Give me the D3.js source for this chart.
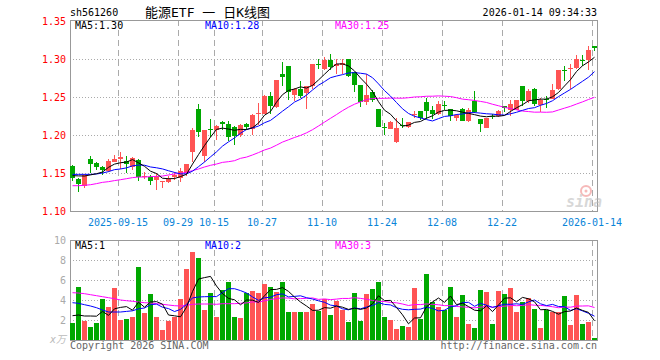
<!DOCTYPE html>
<html>
<head>
<meta charset="utf-8">
<script src="https://cdn.jsdelivr.net/npm/d3@7"></script>
<style>
  body { margin: 0; background: #fff; }
  svg text { font-family: "DejaVu Sans Mono", "Noto Sans CJK SC", monospace; }
</style>
</head>
<body>
<div id="chart"></div>
<script>
// trading days shown (2025-09-03 .. 2026-01-14)
const dates = [
  '2025-09-03', '2025-09-04', '2025-09-05', '2025-09-08', '2025-09-09', '2025-09-10', '2025-09-11', '2025-09-12',
  '2025-09-15', '2025-09-16', '2025-09-17', '2025-09-18', '2025-09-19', '2025-09-22', '2025-09-23', '2025-09-24',
  '2025-09-25', '2025-09-26', '2025-09-29', '2025-09-30', '2025-10-09', '2025-10-10', '2025-10-13', '2025-10-14',
  '2025-10-15', '2025-10-16', '2025-10-17', '2025-10-20', '2025-10-21', '2025-10-22', '2025-10-23', '2025-10-24',
  '2025-10-27', '2025-10-28', '2025-10-29', '2025-10-30', '2025-10-31', '2025-11-03', '2025-11-04', '2025-11-05',
  '2025-11-06', '2025-11-07', '2025-11-10', '2025-11-11', '2025-11-12', '2025-11-13', '2025-11-14', '2025-11-17',
  '2025-11-18', '2025-11-19', '2025-11-20', '2025-11-21', '2025-11-24', '2025-11-25', '2025-11-26', '2025-11-27',
  '2025-11-28', '2025-12-01', '2025-12-02', '2025-12-03', '2025-12-04', '2025-12-05', '2025-12-08', '2025-12-09',
  '2025-12-10', '2025-12-11', '2025-12-12', '2025-12-15', '2025-12-16', '2025-12-17', '2025-12-18', '2025-12-19',
  '2025-12-22', '2025-12-23', '2025-12-24', '2025-12-25', '2025-12-26', '2025-12-29', '2025-12-30', '2025-12-31',
  '2026-01-05', '2026-01-06', '2026-01-07', '2026-01-08', '2026-01-09', '2026-01-12', '2026-01-13', '2026-01-14'
];

const open = [
  1.159, 1.1425, 1.1325, 1.169, 1.1636, 1.1575, 1.152, 1.165, 1.169, 1.166,
  1.158, 1.1675, 1.145, 1.1448, 1.1408, 1.138, 1.1386, 1.1445, 1.1435, 1.150,
  1.177, 1.2346, 1.172, 1.208, 1.2061, 1.2165, 1.215, 1.211, 1.2004, 1.215,
  1.208, 1.2278, 1.228, 1.2518, 1.2368, 1.2798, 1.2904, 1.2526, 1.2605, 1.2553,
  1.265, 1.294, 1.2873, 1.2982, 1.2913, 1.2917, 1.300, 1.2829, 1.2662, 1.2434,
  1.2561, 1.2346, 1.2105, 1.2075, 1.1908, 1.2136, 1.2105, 1.2267, 1.232, 1.2439,
  1.2333, 1.2281, 1.240, 1.2346, 1.2224, 1.2342, 1.218, 1.2443, 1.2215, 1.2092,
  1.2254, 1.2254, 1.2377, 1.2333, 1.2333, 1.2649, 1.2443, 1.2605, 1.2399, 1.2474,
  1.2474, 1.2605, 1.286, 1.2868, 1.2882, 1.2987, 1.2982, 1.3167
];
const close = [
  1.143, 1.135, 1.1478, 1.162, 1.1575, 1.154, 1.166, 1.169, 1.171, 1.162,
  1.170, 1.145, 1.146, 1.139, 1.1465, 1.139, 1.142, 1.147, 1.152, 1.1614,
  1.206, 1.2045, 1.207, 1.207, 1.2123, 1.2145, 1.198, 1.199, 1.2136, 1.2105,
  1.2268, 1.2285, 1.251, 1.2377, 1.272, 1.2763, 1.2561, 1.2605, 1.2518, 1.264,
  1.294, 1.2917, 1.2982, 1.2895, 1.2938, 1.2947, 1.278, 1.2654, 1.2434, 1.2531,
  1.2465, 1.2105, 1.2097, 1.2167, 1.2092, 1.2123, 1.2167, 1.2281, 1.2224, 1.2311,
  1.2281, 1.2412, 1.2386, 1.2246, 1.2268, 1.2189, 1.2333, 1.2303, 1.215, 1.2224,
  1.2237, 1.232, 1.2355, 1.2412, 1.2465, 1.2443, 1.2575, 1.2412, 1.2465, 1.2465,
  1.2596, 1.286, 1.2838, 1.2882, 1.300, 1.2974, 1.3114, 1.3145
];
const high = [
  1.160, 1.144, 1.149, 1.173, 1.165, 1.159, 1.168, 1.174, 1.178, 1.173,
  1.171, 1.168, 1.151, 1.148, 1.150, 1.139, 1.146, 1.151, 1.157, 1.1614,
  1.209, 1.241, 1.207, 1.2215, 1.213, 1.218, 1.218, 1.212, 1.215, 1.216,
  1.228, 1.242, 1.252, 1.257, 1.273, 1.2965, 1.2904, 1.2614, 1.2706, 1.264,
  1.294, 1.300, 1.302, 1.306, 1.300, 1.300, 1.300, 1.2829, 1.2662, 1.2807,
  1.2596, 1.2346, 1.216, 1.2189, 1.2224, 1.2224, 1.2175, 1.231, 1.232, 1.2487,
  1.2377, 1.2452, 1.2452, 1.2346, 1.228, 1.2355, 1.2355, 1.2575, 1.2215, 1.2224,
  1.2281, 1.2333, 1.2386, 1.2465, 1.2465, 1.2649, 1.2605, 1.2618, 1.2487, 1.2509,
  1.2675, 1.286, 1.2912, 1.294, 1.3057, 1.305, 1.3175, 1.3175
];
const low = [
  1.139, 1.125, 1.130, 1.150, 1.154, 1.147, 1.151, 1.164, 1.155, 1.150,
  1.154, 1.139, 1.142, 1.134, 1.128, 1.130, 1.137, 1.141, 1.138, 1.146,
  1.165, 1.198, 1.165, 1.198, 1.194, 1.207, 1.1925, 1.187, 1.198, 1.207,
  1.1996, 1.213, 1.227, 1.228, 1.2355, 1.264, 1.2465, 1.2443, 1.2487, 1.2338,
  1.2605, 1.2873, 1.286, 1.285, 1.2807, 1.2807, 1.2763, 1.2561, 1.2364, 1.240,
  1.243, 1.210, 1.1996, 1.2075, 1.190, 1.2092, 1.2092, 1.222, 1.220, 1.2206,
  1.2206, 1.2268, 1.2333, 1.219, 1.218, 1.218, 1.2167, 1.229, 1.2035, 1.2092,
  1.2211, 1.2233, 1.2298, 1.2254, 1.2325, 1.2377, 1.2421, 1.2377, 1.2298, 1.2355,
  1.2474, 1.2596, 1.2706, 1.2605, 1.2868, 1.2912, 1.2855, 1.311
];
// volume, 万
const volume = [
  1.7, 5.3, 1.9, 1.3, 1.7, 4.1, 3.3, 5.2, 2.0, 2.1,
  2.3, 7.3, 2.7, 4.6, 2.3, 1.0, 1.9, 2.3, 4.1, 7.1,
  8.8, 8.2, 3.0, 4.7, 2.3, 5.0, 5.8, 2.3, 2.2, 4.7,
  4.9, 4.7, 5.6, 5.3, 4.8, 5.8, 2.8, 2.8, 2.8, 2.8,
  3.6, 2.9, 4.1, 2.5, 3.9, 3.0, 1.8, 4.7, 1.9, 4.6,
  5.1, 5.8, 2.3, 2.0, 1.1, 1.4, 1.3, 5.2, 2.1, 6.6,
  3.8, 3.3, 3.0, 5.3, 2.3, 4.5, 1.6, 1.2, 5.0, 4.8,
  1.6, 4.9, 4.6, 5.2, 2.8, 3.8, 4.2, 3.1, 1.2, 3.0,
  2.8, 2.8, 4.4, 1.5, 4.5, 1.6, 1.8, 0.2
];

const ma5Head = [1.1465, 1.1462, 1.146, 1.1475];
const ma10Head = [1.1482, 1.1482, 1.1482, 1.1482, 1.1487, 1.150, 1.1518, 1.1544, 1.1553];
const ma30Head = [
  1.1333, 1.1333, 1.1338, 1.1346, 1.136, 1.1377, 1.1386, 1.140, 1.1412, 1.1425,
  1.1439, 1.1447, 1.1447, 1.1452, 1.1456, 1.146, 1.1474, 1.1487, 1.1496, 1.1509,
  1.1531, 1.1553, 1.1579, 1.1601, 1.1618, 1.164, 1.1649, 1.1662, 1.1693
];
const volMa5Head = [2.43, 2.5, 2.4, 2.4];
const volMa10Head = [3.73, 3.67, 3.53, 3.4, 3.23, 3.0, 2.8, 2.8, 2.8];
const volMa30Head = [
  4.73, 4.7, 4.63, 4.53, 4.43, 4.33, 4.23, 4.13, 4.0, 3.93,
  3.87, 3.8, 3.73, 3.7, 3.63, 3.57, 3.5, 3.43, 3.4, 3.47,
  3.57, 3.6, 3.6, 3.6, 3.57, 3.63, 3.63, 3.63, 3.67
];

const priceTicks = [1.10, 1.15, 1.20, 1.25, 1.30, 1.35];
const volTicks = [2, 4, 6, 8, 10];
const dateTicks = ['2025-09-15', '2025-09-29', '2025-10-15', '2025-10-27', '2025-11-10',
  '2025-11-24', '2025-12-08', '2025-12-22', '2026-01-14'];
const dateTickLabels = ['2025-09-15', '09-29', '10-15', '10-27', '11-10',
  '11-24', '12-08', '12-22', '2026-01-14'];

const width = 660;
const height = 360;
const left = 70;
const right = 598;
const RED = '#ff5454';
const GREEN = '#00a800';
const GRID = '#aaa';

function movingAvg(vals, n, head) {
  return vals.map((v, i) => (i >= n - 1 ? d3.mean(vals.slice(i - n + 1, i + 1)) : head[i]));
}

const ma5 = movingAvg(close, 5, ma5Head);
const ma10 = movingAvg(close, 10, ma10Head);
const ma30 = movingAvg(close, 30, ma30Head);
const vma5 = movingAvg(volume, 5, volMa5Head);
const vma10 = movingAvg(volume, 10, volMa10Head);
const vma30 = movingAvg(volume, 30, volMa30Head);

const x = d3.scaleBand().domain(dates).range([left, right]).padding(0);
const bw = x.bandwidth() - 1;
const cx = (d) => x(d) + 2.5;
const y = d3.scaleLinear().domain([1.10, 1.35]).range([211, 21]);
const yv = d3.scaleLinear().domain([0, 10]).range([340, 240]);

const svg = d3.select('#chart')
  .append('svg')
  .attr('width', width)
  .attr('height', height)
  .attr('viewBox', [0, 0, width, height]);

// header
svg.append('text').attr('x', 70).attr('y', 16).attr('font-size', 10).attr('fill', '#000')
  .text('sh561260');
svg.append('text').attr('x', 145).attr('y', 17).attr('font-size', 13).attr('fill', '#000')
  .text('能源ETF 一 日K线图');
svg.append('text').attr('x', 597).attr('y', 16).attr('font-size', 10).attr('fill', '#000')
  .attr('text-anchor', 'end').text('2026-01-14 09:34:33');

// ---- panels: grid + frame
function panel(top, bottom, yScale, ticks) {
  const g = svg.append('g').attr('shape-rendering', 'crispEdges');
  g.selectAll('line.h')
    .data(ticks)
    .join('line')
    .attr('x1', left).attr('x2', right - 1)
    .attr('y1', (d) => Math.round(yScale(d)) + 0.5)
    .attr('y2', (d) => Math.round(yScale(d)) + 0.5)
    .attr('stroke', GRID)
    .attr('stroke-dasharray', '1,2');
  g.selectAll('line.v')
    .data(dateTicks)
    .join('line')
    .attr('x1', (d) => x(d) + 0.5).attr('x2', (d) => x(d) + 0.5)
    .attr('y1', top).attr('y2', bottom)
    .attr('stroke', GRID)
    .attr('stroke-dasharray', '6,4');
  g.append('path')
    .attr('d', `M${left + 0.5},${top + 0.5}H${right - 0.5}V${bottom + 0.5}H${left + 0.5}Z`)
    .attr('fill', 'none')
    .attr('stroke', '#999');
}
panel(20, 211, y, priceTicks.slice(1, -1));
panel(240, 340, yv, volTicks.slice(0, -1));

// price axis labels
svg.append('g')
  .selectAll('text')
  .data(priceTicks)
  .join('text')
  .attr('x', 66)
  .attr('y', (d) => y(d) + 4)
  .attr('text-anchor', 'end')
  .attr('font-size', 10)
  .attr('fill', '#f00')
  .text((d) => d.toFixed(2));

// volume axis labels
svg.append('g')
  .selectAll('text')
  .data(volTicks)
  .join('text')
  .attr('x', 66)
  .attr('y', (d) => yv(d) + 4)
  .attr('text-anchor', 'end')
  .attr('font-size', 10)
  .attr('fill', '#aaa')
  .text((d) => d);
svg.append('text').attr('x', 66).attr('y', 343).attr('text-anchor', 'end')
  .attr('font-size', 10).attr('fill', '#bbb').attr('font-style', 'italic').text('x万');

// date labels
svg.append('g')
  .selectAll('text')
  .data(dateTicks)
  .join('text')
  .attr('x', (d) => x(d))
  .attr('y', 226)
  .attr('text-anchor', 'middle')
  .attr('font-size', 10)
  .attr('fill', '#0a84d8')
  .text((d, i) => dateTickLabels[i]);

// sina watermark
const wm = svg.append('g').attr('opacity', 0.55);
wm.append('circle').attr('cx', 586).attr('cy', 191).attr('r', 5)
  .attr('fill', 'none').attr('stroke', '#f08080').attr('stroke-width', 2);
wm.append('circle').attr('cx', 586).attr('cy', 191).attr('r', 1.5).attr('fill', '#f08080');
wm.append('text').attr('x', 566).attr('y', 207).attr('font-size', 15)
  .attr('font-style', 'italic').attr('font-weight', 'bold')
  .attr('font-family', 'DejaVu Sans').attr('fill', '#b8b8b8').text('sina');

// candles
const candles = svg.append('g').attr('shape-rendering', 'crispEdges')
  .selectAll('g')
  .data(dates)
  .join('g')
  .attr('fill', (d, i) => (close[i] >= open[i] ? RED : GREEN))
  .attr('stroke', (d, i) => (close[i] >= open[i] ? RED : GREEN));
candles.append('line')
  .attr('x1', (d) => cx(d)).attr('x2', (d) => cx(d))
  .attr('y1', (d, i) => y(high[i])).attr('y2', (d, i) => y(low[i]));
candles.append('rect')
  .attr('x', (d) => x(d))
  .attr('width', bw)
  .attr('y', (d, i) => y(Math.max(open[i], close[i])))
  .attr('height', (d, i) => Math.max(1, Math.abs(y(open[i]) - y(close[i]))))
  .attr('stroke', 'none');

// volume bars
svg.append('g').attr('shape-rendering', 'crispEdges')
  .selectAll('rect')
  .data(dates)
  .join('rect')
  .attr('x', (d) => x(d))
  .attr('width', bw)
  .attr('y', (d, i) => yv(volume[i]))
  .attr('height', (d, i) => yv(0) - yv(volume[i]))
  .attr('fill', (d, i) => (close[i] >= open[i] ? RED : GREEN));

// moving-average lines
function maLine(vals, scale, color) {
  svg.append('path')
    .datum(vals)
    .attr('fill', 'none')
    .attr('stroke', color)
    .attr('stroke-width', 1)
    .attr('d', d3.line().x((d, i) => cx(dates[i])).y((d) => scale(d)));
}
maLine(ma30, y, '#f0f');
maLine(ma10, y, '#00f');
maLine(ma5, y, '#000');
maLine(vma30, yv, '#f0f');
maLine(vma10, yv, '#00f');
maLine(vma5, yv, '#000');

// legends
const last = dates.length - 1;
const legends = [
  { x: 75, y: 29, text: `MA5:${ma5[last].toFixed(2)}`, color: '#000' },
  { x: 205, y: 29, text: `MA10:${ma10[last].toFixed(2)}`, color: '#00f' },
  { x: 335, y: 29, text: `MA30:${ma30[last].toFixed(2)}`, color: '#f0f' },
  { x: 75, y: 249, text: `MA5:${Math.floor(vma5[last])}`, color: '#000' },
  { x: 205, y: 249, text: `MA10:${Math.floor(vma10[last])}`, color: '#00f' },
  { x: 335, y: 249, text: `MA30:${Math.floor(vma30[last])}`, color: '#f0f' }
];
svg.append('g')
  .selectAll('text')
  .data(legends)
  .join('text')
  .attr('x', (d) => d.x)
  .attr('y', (d) => d.y)
  .attr('font-size', 10)
  .attr('fill', (d) => d.color)
  .text((d) => d.text);

// footer
svg.append('text').attr('x', 70).attr('y', 349).attr('font-size', 10).attr('fill', '#666')
  .text('Copyright 2026 SINA.COM');
svg.append('text').attr('x', 597).attr('y', 349).attr('font-size', 10).attr('fill', '#666')
  .attr('text-anchor', 'end').text('http://finance.sina.com.cn');
</script>
</body>
</html>
